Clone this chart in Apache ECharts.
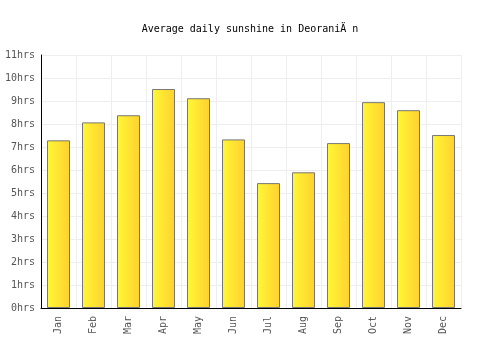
<!DOCTYPE html>
<html lang="en">
<head>
    <meta charset="UTF-8">
    <script src="https://cdn.jsdelivr.net/npm/echarts@6/dist/echarts.min.js"></script>
    <title>Sunshine</title>
    <style>
        html, body { margin: 0; padding: 0; background: #fff; }
        #chart { width: 500px; height: 350px; }
    </style>
</head>
<body>
<div id="chart"></div>
<script>
    let months = ['Jan', 'Feb', 'Mar', 'Apr', 'May', 'Jun', 'Jul', 'Aug', 'Sep', 'Oct', 'Nov', 'Dec']
    let sunshine = [7.29, 8.07, 8.38, 9.52, 9.12, 7.33, 5.43, 5.9, 7.17, 8.95, 8.6, 7.52]
    let title = 'Average daily sunshine in DeoraniÄ n'

    let font = 'DejaVu Sans Mono'
    var chart = echarts.init(document.getElementById('chart'))
    chart.setOption({
        animation: false,
        title: {
            text: title,
            left: 'center',
            top: 19,
            textStyle: { fontFamily: font, fontSize: 10, fontWeight: 'normal', color: '#000' }
        },
        grid: { left: 41, right: 39, top: 55, bottom: 42 },
        xAxis: {
            type: 'category',
            data: months,
            axisLine: { lineStyle: { color: '#000', width: 1 } },
            axisTick: { show: false },
            splitLine: { show: true, interval: 0, lineStyle: { color: '#eeeeee' } },
            axisLabel: { rotate: 90, fontFamily: font, fontSize: 10, color: '#555', margin: 8 }
        },
        yAxis: {
            type: 'value',
            min: 0,
            max: 11,
            interval: 1,
            axisLine: { show: true, lineStyle: { color: '#000', width: 1 } },
            axisTick: { show: false },
            splitLine: { lineStyle: { color: '#eeeeee' } },
            axisLabel: { formatter: '{value}hrs', fontFamily: font, fontSize: 10, color: '#555', margin: 6 }
        },
        series: [{
            type: 'bar',
            data: sunshine,
            barWidth: 23,
            itemStyle: {
                borderColor: '#777',
                borderWidth: 1,
                color: new echarts.graphic.LinearGradient(0, 0, 1, 0, [
                    { offset: 0, color: '#fff835' },
                    { offset: 1, color: '#ffd030' }
                ])
            }
        }]
    })
</script>
</body>
</html>
